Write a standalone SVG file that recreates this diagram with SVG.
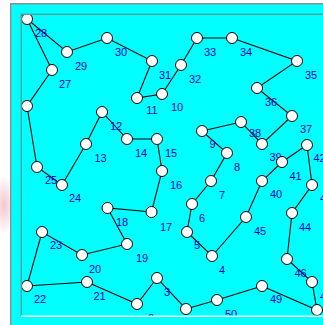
<svg xmlns="http://www.w3.org/2000/svg" width="323" height="325" viewBox="0 0 323 325">
<style>
.e{stroke:#000;stroke-width:1.1;fill:none}
.n circle{fill:#fff;stroke:#000;stroke-width:1}
.n text{font-family:"Liberation Sans",Arial,sans-serif;font-size:11px;fill:#0000c0;text-anchor:middle}
</style>
<defs>
<clipPath id="cv"><rect x="21" y="14" width="302" height="302"/></clipPath>
<radialGradient id="pk"><stop offset="0" stop-color="#f3b8c0" stop-opacity="0.8"/><stop offset="1" stop-color="#f3b8c0" stop-opacity="0"/></radialGradient>
</defs>
<rect x="0" y="0" width="323" height="325" fill="#fff"/>
<ellipse cx="4" cy="205" rx="12" ry="30" fill="url(#pk)"/>
<rect x="10" y="3" width="313" height="322" fill="#00ffff"/>
<g clip-path="url(#cv)">
<g id="connectors">
<polyline class="e" points="27,19 67,52 107,38 152,61 137,98 162,94 181,65 197,38 232,38 297,61 257,88 292,116 262,144 241,122 202,131 227,153 211,181 192,204 187,232 212,256 246,217 262,181 282,162 307,145 312,185 292,213 287,259 312,282 317,310 262,286 217,300 186,309 157,278 137,304 87,282 27,286 42,232 82,255 127,244 107.5,208 151.5,212 162,171 157,139 127,139 102,112 86,144 62,185 37,167 27,106 52,70 27,19"/>
</g>
<g id="n1" class="n"><circle cx="186" cy="309" r="5.5"/></g>
<g id="n2" class="n"><circle cx="137" cy="304" r="5.5"/><text x="151" y="321.5">2</text></g>
<g id="n3" class="n"><circle cx="157" cy="278" r="5.5"/><text x="167" y="295.5">3</text></g>
<g id="n4" class="n"><circle cx="212" cy="256" r="5.5"/><text x="222" y="273.5">4</text></g>
<g id="n5" class="n"><circle cx="187" cy="232" r="5.5"/><text x="197" y="249">5</text></g>
<g id="n6" class="n"><circle cx="192" cy="204" r="5.5"/><text x="202" y="221.5">6</text></g>
<g id="n7" class="n"><circle cx="211" cy="181" r="5.5"/><text x="222" y="198.5">7</text></g>
<g id="n8" class="n"><circle cx="227" cy="153" r="5.5"/><text x="237" y="171">8</text></g>
<g id="n9" class="n"><circle cx="202" cy="131" r="5.5"/><text x="212.5" y="147.5">9</text></g>
<g id="n10" class="n"><circle cx="162" cy="94" r="5.5"/><text x="177" y="110.5">10</text></g>
<g id="n11" class="n"><circle cx="137" cy="98" r="5.5"/><text x="152" y="114">11</text></g>
<g id="n12" class="n"><circle cx="102" cy="112" r="5.5"/><text x="116" y="130">12</text></g>
<g id="n13" class="n"><circle cx="86" cy="144" r="5.5"/><text x="100.5" y="162">13</text></g>
<g id="n14" class="n"><circle cx="127" cy="139" r="5.5"/><text x="141" y="156.5">14</text></g>
<g id="n15" class="n"><circle cx="157" cy="139" r="5.5"/><text x="171" y="156.5">15</text></g>
<g id="n16" class="n"><circle cx="162" cy="171" r="5.5"/><text x="176" y="189">16</text></g>
<g id="n17" class="n"><circle cx="151.5" cy="212" r="5.5"/><text x="166" y="230.5">17</text></g>
<g id="n18" class="n"><circle cx="107.5" cy="208" r="5.5"/><text x="122" y="225.5">18</text></g>
<g id="n19" class="n"><circle cx="127" cy="244" r="5.5"/><text x="142" y="262">19</text></g>
<g id="n20" class="n"><circle cx="82" cy="255" r="5.5"/><text x="95" y="273">20</text></g>
<g id="n21" class="n"><circle cx="87" cy="282" r="5.5"/><text x="99.5" y="300">21</text></g>
<g id="n22" class="n"><circle cx="27" cy="286" r="5.5"/><text x="40" y="303">22</text></g>
<g id="n23" class="n"><circle cx="42" cy="232" r="5.5"/><text x="56" y="249">23</text></g>
<g id="n24" class="n"><circle cx="62" cy="185" r="5.5"/><text x="75" y="202">24</text></g>
<g id="n25" class="n"><circle cx="37" cy="167" r="5.5"/><text x="51" y="184">25</text></g>
<g id="n26" class="n"><circle cx="27" cy="106" r="5.5"/></g>
<g id="n27" class="n"><circle cx="52" cy="70" r="5.5"/><text x="65" y="88">27</text></g>
<g id="n28" class="n"><circle cx="27" cy="19" r="5.5"/><text x="41" y="37">28</text></g>
<g id="n29" class="n"><circle cx="67" cy="52" r="5.5"/><text x="81" y="70">29</text></g>
<g id="n30" class="n"><circle cx="107" cy="38" r="5.5"/><text x="121" y="56">30</text></g>
<g id="n31" class="n"><circle cx="152" cy="61" r="5.5"/><text x="165" y="79">31</text></g>
<g id="n32" class="n"><circle cx="181" cy="65" r="5.5"/><text x="195" y="83">32</text></g>
<g id="n33" class="n"><circle cx="197" cy="38" r="5.5"/><text x="210" y="56">33</text></g>
<g id="n34" class="n"><circle cx="232" cy="38" r="5.5"/><text x="246" y="55.5">34</text></g>
<g id="n35" class="n"><circle cx="297" cy="61" r="5.5"/><text x="311" y="79">35</text></g>
<g id="n36" class="n"><circle cx="257" cy="88" r="5.5"/><text x="271" y="105.5">36</text></g>
<g id="n37" class="n"><circle cx="292" cy="116" r="5.5"/><text x="306" y="133">37</text></g>
<g id="n38" class="n"><circle cx="241" cy="122" r="5.5"/><text x="255" y="137">38</text></g>
<g id="n39" class="n"><circle cx="262" cy="144" r="5.5"/><text x="275.5" y="161">39</text></g>
<g id="n40" class="n"><circle cx="262" cy="181" r="5.5"/><text x="276" y="198">40</text></g>
<g id="n41" class="n"><circle cx="282" cy="162" r="5.5"/><text x="295.5" y="180">41</text></g>
<g id="n42" class="n"><circle cx="307" cy="145" r="5.5"/><text x="319.5" y="162">42</text></g>
<g id="n43" class="n"><circle cx="312" cy="185" r="5.5"/><text x="326" y="202">43</text></g>
<g id="n44" class="n"><circle cx="292" cy="213" r="5.5"/><text x="305" y="230.5">44</text></g>
<g id="n45" class="n"><circle cx="246" cy="217" r="5.5"/><text x="260" y="235">45</text></g>
<g id="n46" class="n"><circle cx="287" cy="259" r="5.5"/><text x="300.5" y="276.5">46</text></g>
<g id="n47" class="n"><circle cx="312" cy="282" r="5.5"/><text x="326" y="299.5">47</text></g>
<g id="n48" class="n"><circle cx="317" cy="310" r="5.5"/></g>
<g id="n49" class="n"><circle cx="262" cy="286" r="5.5"/><text x="276" y="303">49</text></g>
<g id="n50" class="n"><circle cx="217" cy="300" r="5.5"/><text x="231" y="318">50</text></g>
</g>
<path d="M10.7,325 V3.7 H323" fill="none" stroke="#8e8e8e" stroke-width="1.4"/>
<path d="M21.2,316 V14.2 H323" fill="none" stroke="#50a4a4" stroke-width="1.4"/>
<path d="M21,316.3 H323" fill="none" stroke="#e8ffff" stroke-width="1.4"/>
</svg>
